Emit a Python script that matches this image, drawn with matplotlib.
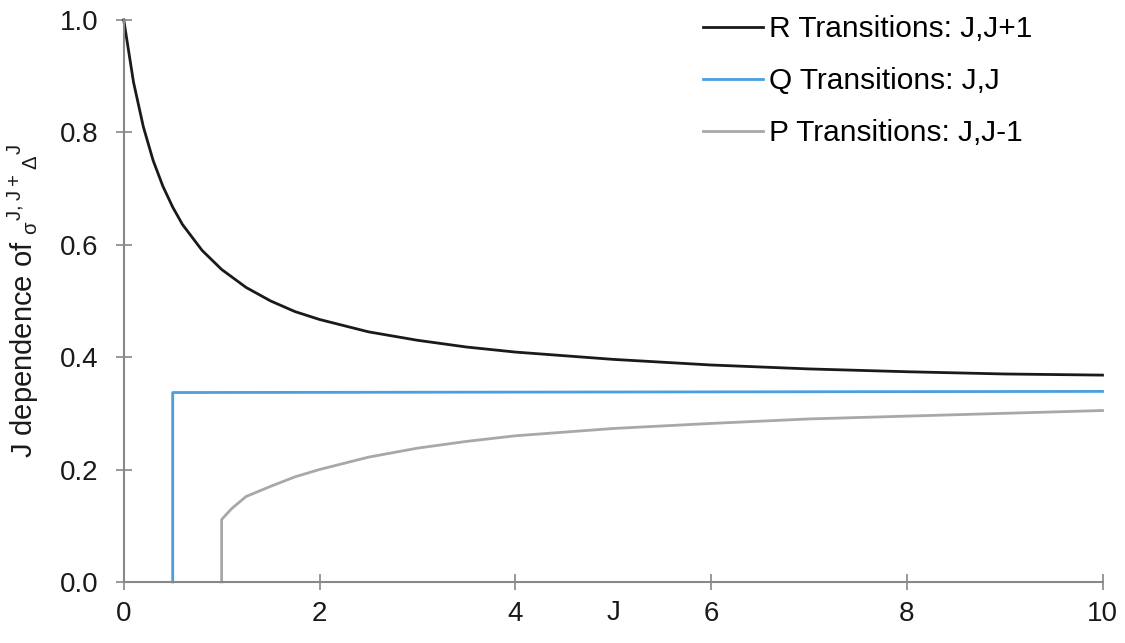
import matplotlib
matplotlib.use("Agg")
import matplotlib.pyplot as plt
import matplotlib.transforms as mtransforms

plt.rcParams['font.family'] = ['Liberation Sans', 'DejaVu Sans']
plt.rcParams['mathtext.default'] = 'regular'

# values
r_j = [0, 0.1, 0.2, 0.3, 0.4, 0.5, 0.6, 0.8, 1.0, 1.25, 1.5, 1.75, 2, 2.5, 3, 3.5, 4, 5, 6, 7, 8, 9, 10]
r_val = [1.0, 0.889, 0.810, 0.750, 0.704, 0.667, 0.636, 0.590, 0.556, 0.524, 0.500, 0.481,
         0.467, 0.445, 0.430, 0.418, 0.409, 0.396, 0.386, 0.379, 0.374, 0.370, 0.368]

q_j = [0.5, 0.5, 10]
q_val = [0.0, 0.337, 0.339]

p_j = [1.0, 1.0, 1.1, 1.25, 1.5, 1.75, 2, 2.5, 3, 3.5, 4, 5, 6, 7, 8, 9, 10]
p_val = [0.0, 0.111, 0.130, 0.152, 0.170, 0.187, 0.200, 0.222, 0.238, 0.250, 0.260, 0.273,
         0.282, 0.290, 0.295, 0.300, 0.305]

labels = ['R Transitions: J,J+1', 'Q Transitions: J,J', 'P Transitions: J,J-1']
ticks_x = [0, 2, 4, 6, 8, 10]
ticks_y = [0.0, 0.2, 0.4, 0.6, 0.8, 1.0]

fig = plt.figure(figsize=(11.25, 6.43), dpi=100)
ax = fig.add_axes([0.110, 0.095, 0.870, 0.874])

ax.plot(r_j, r_val, color='#1a1a1a', lw=2.0, label=labels[0], clip_on=False)
ax.plot(q_j, q_val, color='#4a9fe0', lw=2.0, label=labels[1], clip_on=False)
ax.plot(p_j, p_val, color='#a8a8a8', lw=2.0, label=labels[2], clip_on=False)

ax.set_xlim(0, 10)
ax.set_ylim(0, 1.0)
ax.set_xticks(ticks_x)
ax.set_yticks(ticks_y)
ax.set_yticklabels(['%.1f' % v for v in ticks_y])

for side in ['top', 'right']:
    ax.spines[side].set_visible(False)
for side in ['left', 'bottom']:
    ax.spines[side].set_color('#888888')
    ax.spines[side].set_linewidth(1.5)

ax.tick_params(direction='inout', length=12, width=1.2, color='#888888',
               labelsize=20, labelcolor='#1a1a1a')
ax.tick_params(axis='x', pad=8)
ax.tick_params(axis='y', pad=12)

trans = mtransforms.blended_transform_factory(ax.transData, ax.transAxes)
ax.text(5.0, -0.033, 'J', transform=trans, ha='center', va='top', fontsize=20, color='#1a1a1a')

ax.set_ylabel(r'J dependence of $_{\sigma}{}^{J,J+}{}_{\Delta}{}^{J}$', fontsize=21,
              color='#1a1a1a', labelpad=14)

leg = ax.legend(loc='upper left', bbox_to_anchor=(0.592, 1.008), frameon=False,
                borderaxespad=0, borderpad=0,
                fontsize=21.5, handlelength=2.0, handletextpad=0.2, labelspacing=0.8)

fig.savefig('out.png', dpi=100)
